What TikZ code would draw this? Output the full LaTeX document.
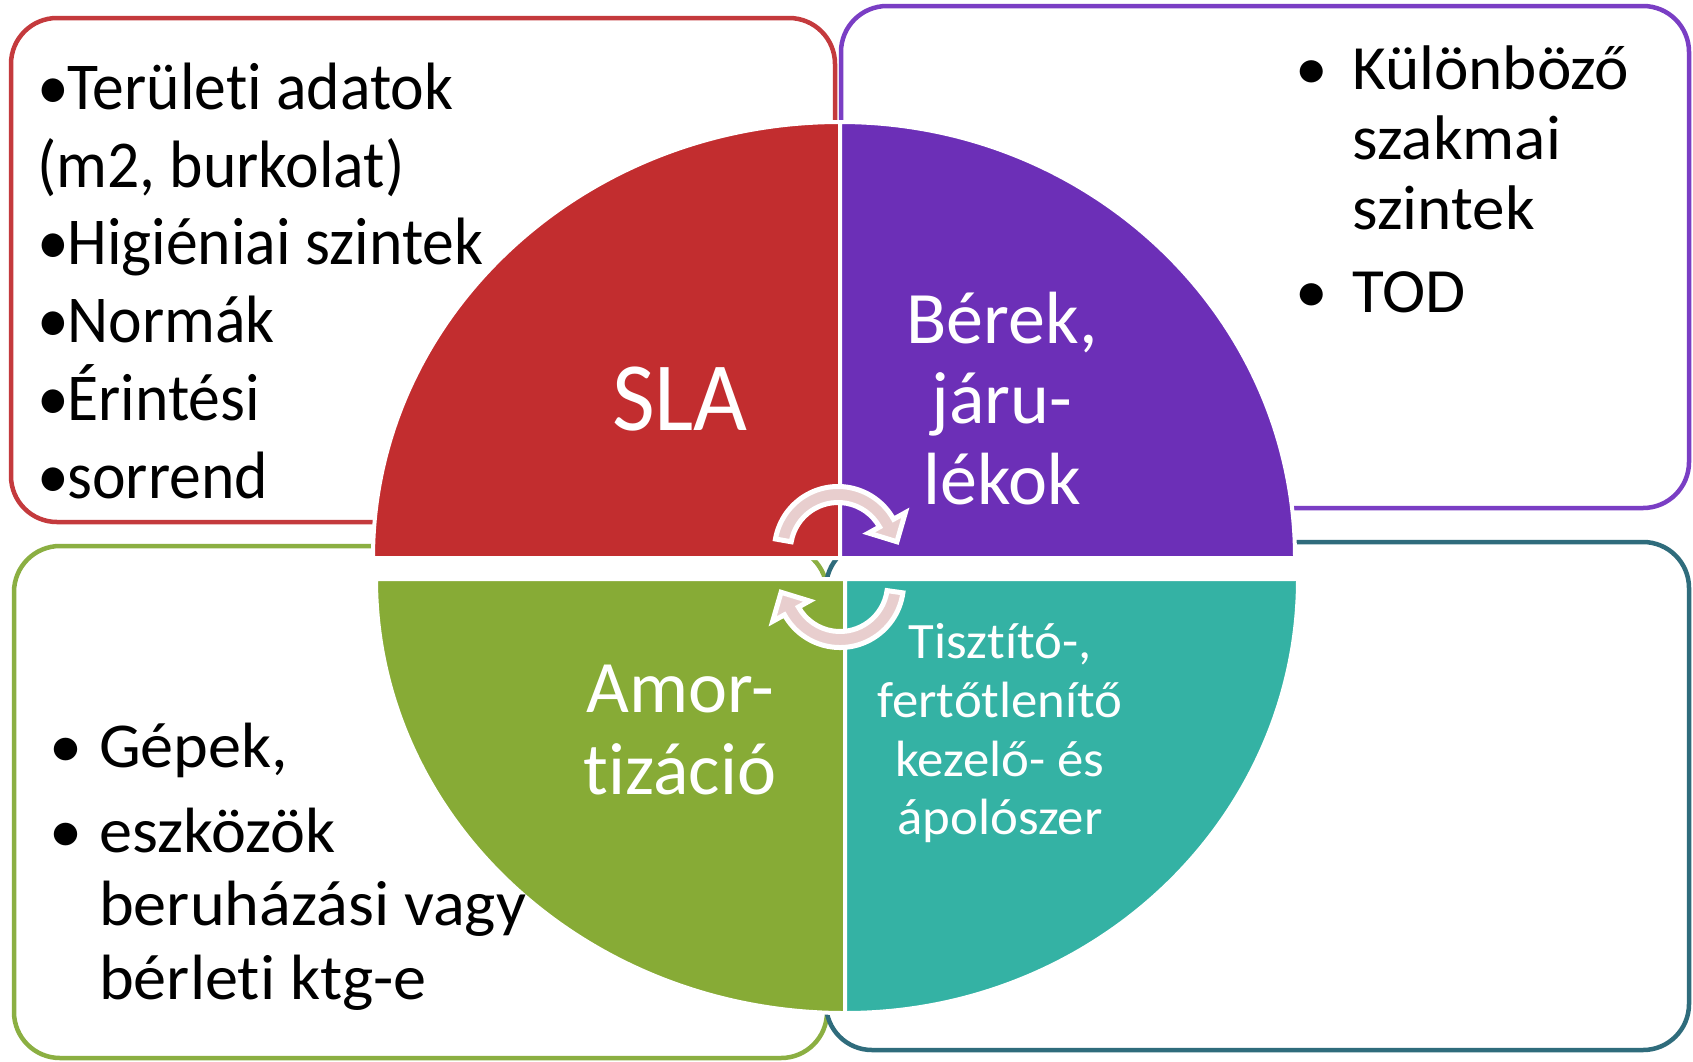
\documentclass[tikz,border=0pt]{standalone}
\usepackage{fontspec}
\setmainfont{Carlito}[Ligatures=NoCommon]
\newfontfamily\fA{Carlito}[FakeStretch=0.95,Ligatures=NoCommon]
\newfontfamily\fB{Carlito}[FakeStretch=1.0,Ligatures=NoCommon]
\newfontfamily\fC{Carlito}[FakeStretch=1.035,Ligatures=NoCommon]
\definecolor{cRed}{HTML}{C22D2F}
\definecolor{cPurple}{HTML}{6C2FB7}
\definecolor{cGreen}{HTML}{87AB36}
\definecolor{cTeal}{HTML}{34B2A4}
\definecolor{cRedLine}{HTML}{C43A3D}
\definecolor{cPurLine}{HTML}{7A3EC4}
\definecolor{cGrnLine}{HTML}{8BAF42}
\definecolor{cTealLine}{HTML}{2F6C7C}
\definecolor{cPink}{HTML}{E8CECE}
\newcommand{\bl}{•\kern-1.5pt}
\begin{document}
\begin{tikzpicture}[x=1pt,y=-1pt,
  boxline/.style={line width=4.5pt, rounded corners=46pt},
  quad/.style={draw=white, line width=4pt},
  cyc/.style={fill=cPink, draw=white, line width=5pt, line join=miter},
  qtext/.style={text=white, inner sep=0pt, align=center, anchor=base},
  btext/.style={text=black, inner sep=0pt, align=left, anchor=base west},
  bul/.style={text=black, inner sep=0pt, anchor=base},
]
\useasboundingbox[fill=white] (0,0) rectangle (1693,1061);
% outline boxes
\draw[boxline, draw=cRedLine] (11,18) rectangle (835,522);
\draw[boxline, draw=cPurLine] (841,6) rectangle (1689,508);
\draw[boxline, draw=cGrnLine] (14,546) rectangle (827,1058);
\draw[boxline, draw=cTealLine] (826,542) rectangle (1689,1050);
% quadrants
\filldraw[quad, fill=cRed] (840,558) -- (373,558) arc[start angle=180, end angle=270, x radius=467, y radius=436] -- cycle;
\filldraw[quad, fill=cPurple] (840,558) -- (840,122) arc[start angle=270, end angle=360, x radius=455, y radius=436] -- cycle;
\filldraw[quad, fill=cGreen] (845,579) -- (376,579) arc[start angle=180, end angle=90, x radius=469, y radius=434] -- cycle;
\filldraw[quad, fill=cTeal] (845,579) -- (845,1013) arc[start angle=90, end angle=0, x radius=453, y radius=434] -- cycle;
% circular arrows
\begin{scope}[shift={(838,550)}]
\filldraw[cyc] (190:47.5) arc[start angle=190, end angle=331, radius=47.5] -- (331:35) -- (352:59.5) -- (331:77) -- (331:63.5) arc[start angle=331, end angle=190, radius=63.5] -- cycle;
\end{scope}
\begin{scope}[shift={(840,584)}]
\filldraw[cyc] (8:47.5) arc[start angle=8, end angle=151, radius=47.5] -- (151:35) -- (172:59.5) -- (151:77) -- (151:63.5) arc[start angle=151, end angle=8, radius=63.5] -- cycle;
\end{scope}
% quadrant texts (anchor = baseline of last line)
\node[qtext, font=\fA\fontsize{98}{100}\selectfont] (sla) at (680,430) {SLA};
\node[qtext, font=\fB\fontsize{74}{80.5}\selectfont] (berek) at (1002,504) {Bérek,\\járu-\\lékok};
\node[qtext, font=\fB\fontsize{74}{82}\selectfont] (amor) at (680,794) {Amor-\\tizáció};
\node[qtext, font=\fC\fontsize{51}{58.7}\selectfont] (tiszt) at (1000,834.8) {Tisztító-,\\fertőtlenítő\\kezelő- és\\ápolószer};
% red box list
\node[btext, font=\fA\fontsize{67}{77.8}\selectfont] (area) at (37,498.3) {\bl Területi adatok\\(m2, burkolat)\\\bl Higiéniai szintek\\\bl Normák\\\bl Érintési\\\bl sorrend};
% purple box list
\node[bul, font=\fC\fontsize{63}{70}\selectfont] (pb1) at (1312,89) {•};
\node[btext, font=\fC\fontsize{63}{70}\selectfont] (kul) at (1352,229) {Különböző\\szakmai\\szintek};
\node[bul, font=\fC\fontsize{63}{70}\selectfont] (pb2) at (1312,312) {•};
\node[btext, font=\fC\fontsize{63}{70}\selectfont] (tod) at (1352,312) {TOD};
% green box list
\node[bul, font=\fC\fontsize{64}{73.5}\selectfont] (gb1) at (66,767) {•};
\node[btext, font=\fC\fontsize{64}{73.5}\selectfont] (gep) at (99,767) {Gépek,};
\node[bul, font=\fC\fontsize{64}{73.5}\selectfont] (gb2) at (66,852) {•};
\node[btext, font=\fC\fontsize{64}{73.5}\selectfont] (esz) at (99,999) {eszközök\\beruházási vagy\\bérleti ktg-e};
\end{tikzpicture}
\end{document}
